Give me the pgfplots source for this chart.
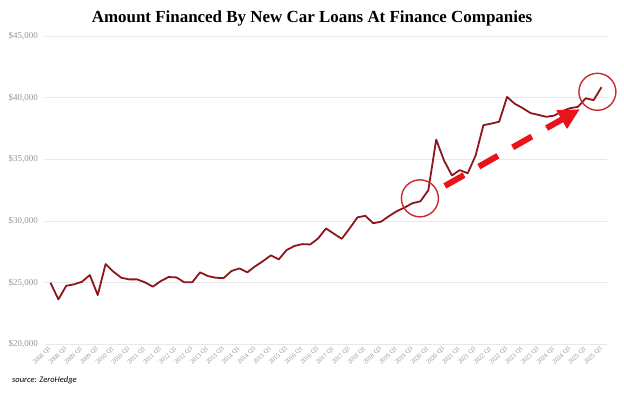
\documentclass[border=0pt]{standalone}
\usepackage{fontspec}
\setmainfont{Liberation Serif}
\newfontfamily\srcfont{Carlito}
\usepackage{pgfplots}
\pgfplotsset{compat=1.18}
\usetikzlibrary{arrows.meta}
\definecolor{linered}{RGB}{140,22,26}
\definecolor{circred}{RGB}{205,40,45}
\definecolor{arrred}{RGB}{232,20,26}
\definecolor{gridgray}{RGB}{232,232,232}
\definecolor{labgray}{RGB}{150,150,150}
\begin{document}
\begin{tikzpicture}
\useasboundingbox (0,0) rectangle (624bp,393bp);
\begin{axis}[
  at={(45bp,48.6bp)}, anchor=south west,
  scale only axis, width=562bp, height=308.4bp,
  xmin=-0.7, xmax=70.7, ymin=20000, ymax=45000,
  axis line style={draw=none},
  ytick={20000,25000,...,45000},
  ymajorgrids, grid style={gridgray, line width=0.8pt},
  major tick length=0pt,
  xtick={0,2,...,70},
  xticklabels={2008 Q1,2008 Q3,2009 Q1,2009 Q3,2010 Q1,2010 Q3,2011 Q1,2011 Q3,2012 Q1,2012 Q3,2013 Q1,2013 Q3,2014 Q1,2014 Q3,2015 Q1,2015 Q3,2016 Q1,2016 Q3,2017 Q1,2017 Q3,2018 Q1,2018 Q3,2019 Q1,2019 Q3,2020 Q1,2020 Q3,2021 Q1,2021 Q3,2022 Q1,2022 Q3,2023 Q1,2023 Q3,2024 Q1,2024 Q3,2025 Q1,2025 Q3},
  xticklabel shift=3bp,
  x tick label style={rotate=45, anchor=east, font=\fontsize{6.5}{6.5}\selectfont, text=labgray, inner sep=0.5bp},
  yticklabel shift=7bp,
  y tick label style={font=\fontsize{9}{9}\selectfont, text=labgray, inner sep=0pt},
  yticklabel={\$\pgfmathprintnumber[assume math mode=true,1000 sep={,}]{\tick}},
  scaled y ticks=false,
  clip=false,
]
\addplot[linered, line width=1.8pt, line join=round] table {
x y
0 25000
1 23650
2 24750
3 24870
4 25080
5 25620
6 24000
7 26510
8 25890
9 25400
10 25270
11 25270
12 25030
13 24680
14 25130
15 25460
16 25430
17 25030
18 25030
19 25840
20 25540
21 25400
22 25380
23 25950
24 26160
25 25840
26 26330
27 26750
28 27220
29 26890
30 27650
31 27980
32 28130
33 28100
34 28590
35 29400
36 28970
37 28560
38 29400
39 30300
40 30420
41 29820
42 29950
43 30400
44 30800
45 31100
46 31450
47 31600
48 32500
49 36600
50 34900
51 33700
52 34130
53 33870
54 35300
55 37770
56 37900
57 38050
58 40060
59 39500
60 39150
61 38750
62 38600
63 38450
64 38550
65 38900
66 39150
67 39250
68 39950
69 39800
70 40850
};
\draw[circred, line width=1.4pt] (axis cs:46.93,31840) circle[radius=18.5bp];
\draw[circred, line width=1.4pt] (axis cs:69.48,40478) circle[radius=18.5bp];
\draw[arrred, line width=6bp, dash pattern=on 22bp off 17bp, -{Triangle[length=21bp,width=20bp]}] (axis cs:50.10,32846) -- (axis cs:67.26,39067);
\end{axis}
\node[font=\bfseries\fontsize{17}{17}\selectfont, inner sep=0pt] at (312bp,375bp) {Amount Financed By New Car Loans At Finance Companies};
\node[anchor=west, font=\srcfont\itshape\fontsize{8.5}{8.5}\selectfont, inner sep=0pt] at (12bp,13bp) {source: ZeroHedge};
\end{tikzpicture}
\end{document}
